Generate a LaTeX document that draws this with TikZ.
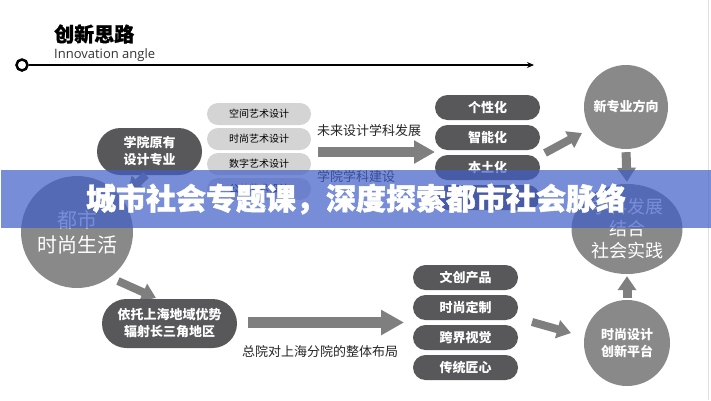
\documentclass[tikz,border=0pt]{standalone}
\usepackage{fontspec}
\setmainfont{Noto Sans CJK SC}
\newfontfamily\latinfont{Open Sans}
\usetikzlibrary{arrows.meta,shapes.geometric}

\definecolor{pilldark}{HTML}{58585A}
\definecolor{pilllight}{HTML}{D4D4D4}
\definecolor{ballgray}{HTML}{898989}
\definecolor{arrowgray}{HTML}{7F7F7F}
\definecolor{bannerblue}{RGB}{64,93,200}

\begin{document}
\begin{tikzpicture}[x=1pt,y=-1pt,
  pillD/.style={fill=pilldark, text=white, font=\bfseries\fontsize{13}{17}\selectfont,
    minimum width=105pt, minimum height=25pt, rounded corners=12.5pt, inner sep=0pt, align=center},
  pillL/.style={fill=pilllight, text=black, font=\fontsize{10}{12}\selectfont,
    minimum width=104pt, minimum height=22pt, rounded corners=11pt, inner sep=0pt},
  ball/.style={circle, fill=ballgray, text=white, inner sep=0pt, align=center},
  lbl/.style={font=\fontsize{13}{15}\selectfont, text=black!85, inner sep=0pt},
  bigarrow/.style={draw=arrowgray, line width=10pt, -{Triangle[length=21pt,width=22pt]}},
  smallarrow/.style={draw=arrowgray, line width=8pt, -{Triangle[length=14pt,width=18pt]}}]
\useasboundingbox (0,0) rectangle (711,400);
\fill[white] (0,0) rectangle (711,400);
\draw[black!12] (708,0) -- (708,400);

\node[anchor=west, inner sep=0pt, font=\bfseries\fontsize{20}{20}\selectfont\addfontfeature{FakeBold=1}] (title) at (54,34) {创新思路};
\node[anchor=west, inner sep=0pt, font=\latinfont\fontsize{13}{13}\selectfont, text=black!80] (subtitle) at (54,55) {Innovation angle};
\node[circle, draw, line width=2.5pt, minimum size=11pt, inner sep=0pt] (dot) at (22,65) {};
\coordinate (lineend) at (534,65);
\draw[line width=1.2pt, -{Stealth[length=7pt,width=6pt]}] (dot) -- (lineend);

\node[pillD, minimum width=105pt, minimum height=47pt, rounded corners=23.5pt] (yuanyou) at (149.5,151.5) {学院原有\\设计专业};
\foreach \t [count=\i] in {空间艺术设计,时尚艺术设计,数字艺术设计,公共艺术设计}
  \node[pillL] (l\i) at (259,89+25*\i) {\t};
\node[lbl, anchor=west] (fazhan) at (317,131) {未来设计学科发展};
\node[lbl, anchor=west] (jianshe) at (317,177) {学院学科建设};
\coordinate (a1s) at (318,152);
\coordinate (a1e) at (435,152);
\draw[bigarrow] (a1s) -- (a1e);

\foreach \t [count=\i] in {个性化,智能化,本土化,{}}
  \node[pillD] (d\i) at (487.5,77.5+30*\i) {\t};

\node[ball, minimum size=84pt, font=\bfseries\fontsize{13}{17}\selectfont] (fangxiang) at (626,107) {新专业方向};
\node[ellipse, fill=ballgray, text=white, inner sep=0pt, align=center, minimum width=111pt, minimum height=90pt,
  font=\fontsize{18}{22}\selectfont] (shijian) at (627,229) {学科发展\\结合\\社会实践};
\node[ball, minimum size=86pt, font=\bfseries\fontsize{13}{17}\selectfont] (chuangxin) at (627,343) {时尚设计\\创新平台};
\coordinate (a2s) at (545,153);
\coordinate (a2e) at (582,133);
\draw[smallarrow] (a2s) -- (a2e);
\draw[smallarrow, line width=9pt, shorten <=3pt, shorten >=2pt] (fangxiang.south) -- (shijian.north);
\draw[smallarrow, line width=9pt, shorten <=2pt, shorten >=2pt] (chuangxin.north) -- (shijian.south);

\node[ball, minimum size=112pt, font=\fontsize{20}{25}\selectfont] (dushi) at (77,232) {都市\\时尚生活};
\coordinate (a3s) at (146,175);
\coordinate (a3e) at (128,192);
\draw[smallarrow] (a3s) -- (a3e);
\coordinate (a4s) at (118,281);
\coordinate (a4e) at (156,298);
\draw[smallarrow] (a4s) -- (a4e);
\node[pillD, minimum width=135pt, minimum height=49pt, rounded corners=24.5pt] (yituo) at (169.5,323.5) {依托上海地域优势\\辐射长三角地区};
\coordinate (a5s) at (248,322.5);
\coordinate (a5e) at (404,322.5);
\draw[bigarrow, line width=11pt, -{Triangle[length=23pt,width=24pt]}] (a5s) -- (a5e);
\node[lbl, anchor=west] (buju) at (242,352) {总院对上海分院的整体布局};
\foreach \t [count=\i] in {文创产品,时尚定制,跨界视觉,传统匠心}
  \node[pillD] (b\i) at (465.5,247.5+30*\i) {\t};
\coordinate (a6s) at (532,322);
\coordinate (a6e) at (571,333);
\draw[smallarrow] (a6s) -- (a6e);

\node[fill=bannerblue, fill opacity=0.7, text opacity=1, text=white, inner sep=0pt,
  minimum width=711pt, minimum height=58pt, font=\bfseries\fontsize{30}{30}\selectfont\addfontfeature{FakeBold=1.5}] (banner) at (356,199) {城市社会专题课，深度探索都市社会脉络};
\end{tikzpicture}
\end{document}
